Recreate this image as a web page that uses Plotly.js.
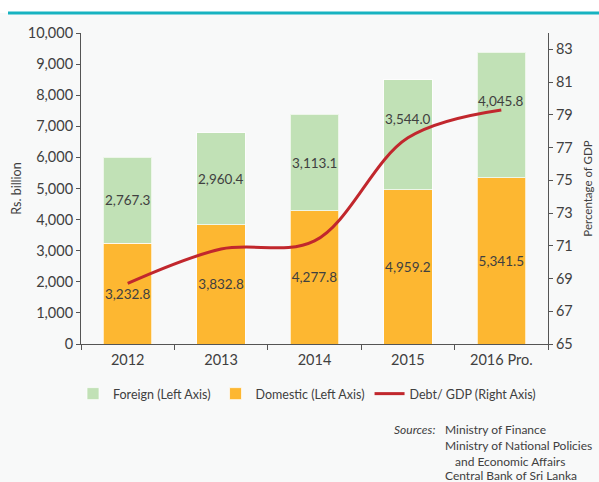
<!DOCTYPE html>
<html>
<head>
<meta charset="utf-8">
<script src="https://cdn.plot.ly/plotly-3.0.1.min.js"></script>
<style>html,body{margin:0;padding:0;background:#f8f9f9;}#chart{width:599px;height:482px;}</style>
</head>
<body>
<div id="chart"></div>
<script>
const years = ['2012', '2013', '2014', '2015', '2016 Pro.'];
const domestic = [3232.8, 3832.8, 4277.8, 4959.2, 5341.5];
const foreign = [2767.3, 2960.4, 3113.1, 3544.0, 4045.8];
const debtGdp = [68.7, 70.8, 71.3, 77.6, 79.3];
const leftTicks = [0, 1000, 2000, 3000, 4000, 5000, 6000, 7000, 8000, 9000, 10000];
const rightTicks = [65, 67, 69, 71, 73, 75, 77, 79, 81, 83];

// label placement style: upward pixel shift of the foreign value labels (keeps them clear of the line)
const foreignLabelShift = [0, 0, 0, 16, 14];

const W = 599, H = 482, mL = 81, mR = 51, mT = 33, mB = 138;
const pw = W - mL - mR, ph = H - mT - mB;
const px = x => (x - mL) / pw;
const py = y => (H - mB - y) / ph;

const FONT = 'Lato, "Open Sans", sans-serif';
const TXT = '#404040';
const fmt = v => v.toLocaleString('en-US', {minimumFractionDigits: 1, maximumFractionDigits: 1});

const traces = [
  {
    type: 'bar', name: 'Domestic (Left Axis)', x: years, y: domestic,
    marker: {color: '#fdb731', line: {color: 'rgba(255,255,255,0.7)', width: 1}},
    text: domestic.map(fmt), textposition: 'inside', insidetextanchor: 'middle',
    textangle: 0, constraintext: 'none', textfont: {family: FONT, size: 13.5, color: TXT},
    legendrank: 2, hoverinfo: 'skip'
  },
  {
    type: 'bar', name: 'Foreign (Left Axis)', x: years, y: foreign,
    marker: {color: '#c1e1b6', line: {color: 'rgba(255,255,255,0.7)', width: 1}},
    textposition: 'none',
    legendrank: 1, hoverinfo: 'skip'
  },
  {
    type: 'scatter', mode: 'lines', name: 'Debt/ GDP (Right Axis)', x: years, y: debtGdp,
    yaxis: 'y2', line: {color: '#c1272d', width: 3, shape: 'spline', smoothing: 1},
    legendrank: 3, hoverinfo: 'skip'
  }
];

const axisCommon = {
  showline: true, linecolor: '#555', linewidth: 1, ticks: 'outside', ticklen: 4,
  tickcolor: '#555', showgrid: false, zeroline: false,
  tickfont: {family: FONT, size: 14.5, color: TXT}
};

const foreignLabels = years.map((yr, i) => ({
  xref: 'x', yref: 'y', x: i, y: domestic[i] + foreign[i] / 2,
  yshift: foreignLabelShift[i], text: fmt(foreign[i]), showarrow: false,
  xanchor: 'center', yanchor: 'middle',
  font: {family: FONT, size: 13.5, color: TXT}
}));

const sourceLabels = [
  {text: '<i>Sources:</i>', x: px(392), y: py(430)},
  {text: 'Ministry of Finance', x: px(443), y: py(430)},
  {text: 'Ministry of National Policies', x: px(443), y: py(445.5)},
  {text: 'and Economic Affairs', x: px(453), y: py(461)},
  {text: 'Central Bank of Sri Lanka', x: px(443), y: py(475.5)}
].map(a => Object.assign({xref: 'paper', yref: 'paper', showarrow: false,
  xanchor: 'left', yanchor: 'middle',
  font: {family: FONT, size: 12, color: TXT}}, a));

const layout = {
  width: W, height: H,
  margin: {l: mL, r: mR, t: mT, b: mB, pad: 0, autoexpand: false},
  paper_bgcolor: '#f8f9f9', plot_bgcolor: '#f8f9f9',
  barmode: 'stack', bargap: 0.48,
  font: {family: FONT, color: TXT, size: 13},
  xaxis: Object.assign({}, axisCommon, {type: 'category', categoryarray: years, categoryorder: 'array',
    range: [-0.5, years.length - 0.5], tickson: 'boundaries', ticklen: 5, ticklabelstandoff: 3}),
  yaxis: Object.assign({}, axisCommon, {
    range: [0, 10000], tickvals: leftTicks, tickformat: ',d', automargin: true,
    title: {text: 'Rs. billion', font: {family: FONT, size: 12.5, color: TXT}, standoff: 3}
  }),
  yaxis2: Object.assign({}, axisCommon, {
    overlaying: 'y', side: 'right', range: [65, 84], tickvals: rightTicks, automargin: true,
    title: {text: 'Percentage of GDP', font: {family: FONT, size: 11.5, color: TXT}, standoff: 12}
  }),
  showlegend: true,
  legend: {
    orientation: 'h', x: px(73), xanchor: 'left', y: py(394), yanchor: 'middle',
    bgcolor: 'rgba(0,0,0,0)', font: {family: FONT, size: 12.5, color: TXT},
    traceorder: 'normal'
  },
  shapes: [
    {type: 'rect', xref: 'paper', yref: 'paper', x0: px(0), x1: px(W), y0: py(13), y1: py(0),
     fillcolor: '#ffffff', line: {width: 0}, layer: 'below'},
    {type: 'line', xref: 'paper', yref: 'paper', x0: px(8), x1: px(W), y0: py(13), y1: py(13),
     line: {color: '#17b3c1', width: 3}}
  ],
  annotations: foreignLabels.concat(sourceLabels)
};

Plotly.newPlot('chart', traces, layout, {staticPlot: true, displayModeBar: false});
</script>
</body>
</html>
